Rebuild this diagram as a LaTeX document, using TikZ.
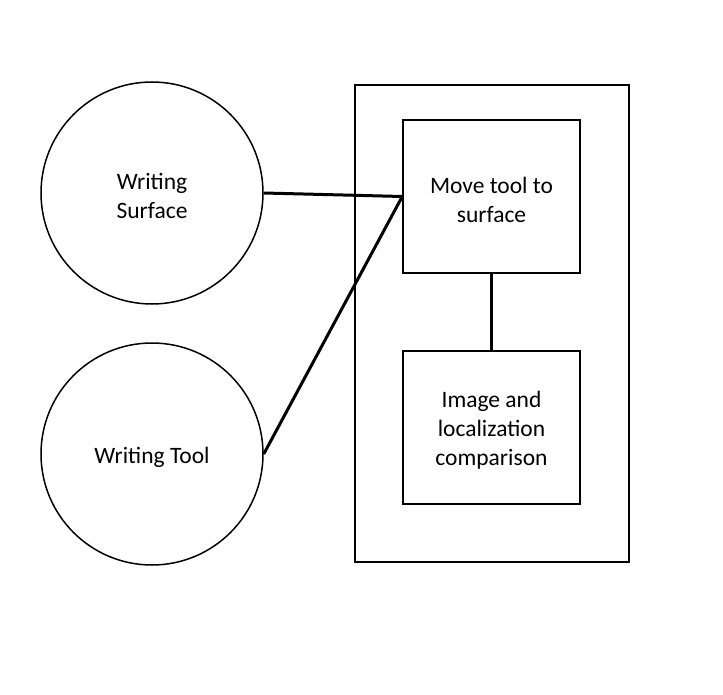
\documentclass[tikz,border=0pt]{standalone}
\usepackage{fontspec}
\setmainfont{Carlito}
\begin{document}
\begin{tikzpicture}[x=1pt,y=-1pt,
  txt/.style={align=center,font=\fontsize{23.5}{29}\selectfont},
  circ/.style={draw,circle,minimum size=222pt,inner sep=0pt,line width=1.5pt},
  boxn/.style={draw,rectangle,minimum width=177pt,minimum height=153pt,inner sep=0pt,line width=1.5pt},
  conn/.style={line width=3pt}]
\useasboundingbox (0,0) rectangle (723,695);
\node[draw,rectangle,line width=1.5pt,minimum width=274pt,minimum height=477pt,inner sep=0pt] (outer) at (492,323.5) {};
\node[circ] (surf) at (152,193) {};
\node[txt] (surftxt) at (152,196) {Writing\\Surface};
\node[circ] (tool) at (152,454) {};
\node[txt] (tooltxt) at (152,457) {Writing Tool};
\node[boxn] (move) at (491.5,196.5) {};
\node[txt] (movetxt) at (491.5,199.5) {Move tool to\\surface};
\node[boxn] (img) at (491.5,427.5) {};
\node[txt] (imgtxt) at (491.5,430.5) {Image and\\localization\\comparison};
\coordinate (j) at (move.west);
\draw[conn] (surf.east) -- (j);
\draw[conn] (tool.east) -- (j);
\draw[conn] (move.south) -- (img.north);
\end{tikzpicture}
\end{document}
